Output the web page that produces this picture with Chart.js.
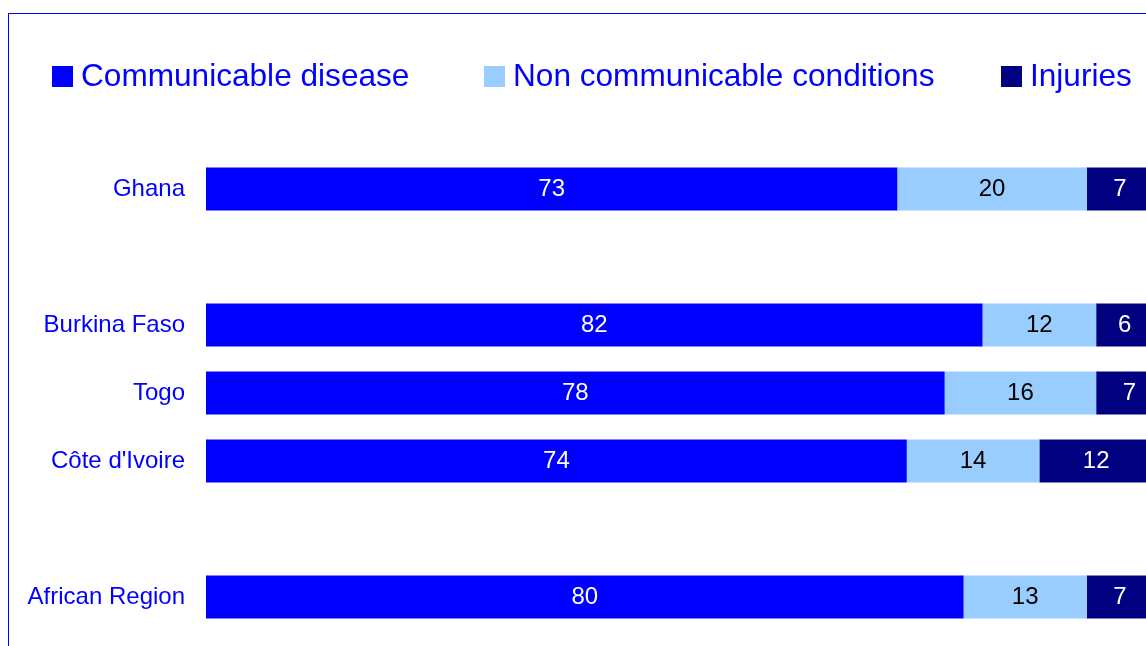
<!DOCTYPE html>
<html>
<head>
<meta charset="utf-8">
<script src="https://cdn.jsdelivr.net/npm/chart.js@4/dist/chart.umd.min.js"></script>
<style>
  html, body { margin: 0; padding: 0; background: #fff; overflow: hidden; }
  body { width: 1146px; height: 646px; position: relative; font-family: "Liberation Sans", Arial, sans-serif; }
  #frame { position: absolute; left: 8px; top: 13px; width: 1200px; height: 700px;
           border-top: 1px solid #0000ff; border-left: 1px solid #0000ff; }
  #chart { position: absolute; left: 0; top: 0; }
  .leg { position: absolute; top: 55px; font-size: 31.6px; color: #0000ff; white-space: nowrap; line-height: 40px; }
  .leg span { display: inline-block; width: 21px; height: 21px; vertical-align: -1px; margin-right: 8px; }
</style>
</head>
<body>
<div id="frame"></div>
<canvas id="chart" width="1153" height="646"></canvas>
<div class="leg" style="left:52px"><span style="background:#0000ff"></span>Communicable disease</div>
<div class="leg" style="left:484px"><span style="background:#99ccff"></span>Non communicable conditions</div>
<div class="leg" style="left:1001px"><span style="background:#000080"></span>Injuries</div>
<script>
document.addEventListener("DOMContentLoaded", () => {
  const countries = ["Ghana", "", "Burkina Faso", "Togo", "Côte d'Ivoire", "", "African Region"];
  const communicable = [73, null, 82, 78, 74, null, 80];
  const nonCommunicable = [20, null, 12, 16, 14, null, 13];
  const injuries = [7, null, 6, 7, 12, null, 7];

  // draws the value in the middle of each bar piece
  const barLabels = {
    id: "barLabels",
    afterDatasetsDraw(chart) {
      const ctx = chart.ctx;
      ctx.save();
      ctx.font = "24px 'Liberation Sans', Arial, sans-serif";
      ctx.textAlign = "center";
      ctx.textBaseline = "middle";
      chart.data.datasets.forEach((ds, i) => {
        chart.getDatasetMeta(i).data.forEach((bar, j) => {
          const v = ds.data[j];
          if (v == null) return;
          ctx.fillStyle = ds.labelColor;
          ctx.fillText(v, (bar.x + bar.base) / 2, bar.y);
        });
      });
      ctx.restore();
    }
  };

  new Chart(document.getElementById("chart"), {
    type: "bar",
    data: {
      labels: countries,
      datasets: [
        { label: "Communicable disease", data: communicable, backgroundColor: "#0000ff", labelColor: "#ffffff" },
        { label: "Non communicable conditions", data: nonCommunicable, backgroundColor: "#99ccff", labelColor: "#000000" },
        { label: "Injuries", data: injuries, backgroundColor: "#000080", labelColor: "#ffffff" }
      ]
    },
    options: {
      indexAxis: "y",
      responsive: false,
      animation: false,
      layout: { padding: { top: 155, bottom: 15, left: 0, right: 0 } },
      datasets: { bar: { categoryPercentage: 0.63, barPercentage: 1 } },
      plugins: { legend: { display: false }, tooltip: { enabled: false } },
      scales: {
        x: { stacked: true, min: 0, max: 100, display: false },
        y: {
          stacked: true,
          grid: { display: false },
          border: { display: false },
          afterFit: s => { s.width = 206; s.paddingTop = 0; s.paddingBottom = 0; },
          ticks: { color: "#0000ff", padding: 13, font: { size: 24, family: "'Liberation Sans', Arial, sans-serif" } }
        }
      }
    },
    plugins: [barLabels]
  });
});
</script>
</body>
</html>
